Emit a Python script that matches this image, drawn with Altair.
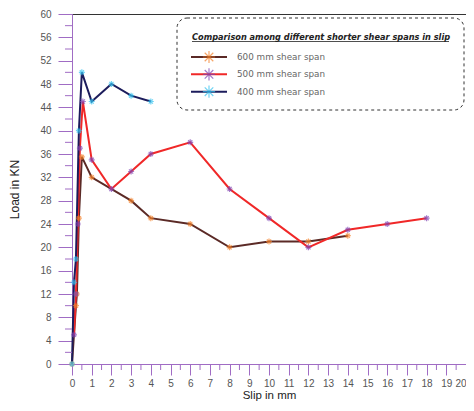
import altair as alt
import pandas as pd

series_names = ["600 mm shear span", "500 mm shear span", "400 mm shear span"]

slip_600 = [0, 0.2, 0.25, 0.35, 0.5, 1, 3, 4, 6, 8, 10, 12, 14]
load_600 = [0, 10, 12, 25, 35.5, 32, 28, 25, 24, 20, 21, 21, 22]

slip_500 = [0.1, 0.2, 0.3, 0.4, 0.55, 1, 2, 3, 4, 6, 8, 10, 12, 14, 16, 18]
load_500 = [5, 12, 24, 37, 45, 35, 30, 33, 36, 38, 30, 25, 20, 23, 24, 25]

slip_400 = [0, 0.1, 0.2, 0.35, 0.5, 1, 2, 3, 4]
load_400 = [0, 14, 18, 40, 50, 45, 48, 46, 45]

x_ticks = list(range(0, 21))
y_ticks = list(range(0, 61, 4))

line_colors = ["#5b2a26", "#f02828", "#1c1c5c"]
marker_colors = ["#f5822a", "#8044b4", "#35c3f0"]

rows = []
for name, xs, ys in zip(series_names, [slip_600, slip_500, slip_400], [load_600, load_500, load_400]):
    for i, (x, y) in enumerate(zip(xs, ys)):
        rows.append({"series": name, "slip": x, "load": y, "idx": i})
df = pd.DataFrame(rows)

AXIS_PURPLE = "#a06cc4"
star = "M-1,0L1,0M0,-1L0,1M-0.7,-0.7L0.7,0.7M-0.7,0.7L0.7,-0.7"

x_scale = alt.Scale(domain=[0, 20], nice=False)
y_scale = alt.Scale(domain=[0, 60], nice=False)
x_axis = alt.Axis(title="Slip in mm", values=x_ticks, grid=False, labelOverlap=False,
                  labelFlush=False,
                  labelAlign={"condition": {"test": "datum.value == 20", "value": "right"}, "value": "center"},
                  domainColor=AXIS_PURPLE, tickColor=AXIS_PURPLE,
                  tickSize=11, labelFont="Liberation Sans", labelFontSize=10,
                  labelColor="#555555", titleFont="Liberation Sans",
                  titleFontSize=11.5, titleFontWeight="normal", titleColor="#222222",
                  labelPadding=3, titlePadding=1)
y_axis = alt.Axis(title="Load in KN", values=y_ticks, grid=False, labelOverlap=False,
                  labelFlush=False, domainColor=AXIS_PURPLE, tickColor=AXIS_PURPLE, tickSize=14,
                  labelFont="Liberation Sans", labelFontSize=10,
                  labelColor="#555555", titleFont="Liberation Sans",
                  titleFontSize=12, titleFontWeight="normal", titleColor="#222222",
                  labelPadding=7, titlePadding=18)

base = alt.Chart(df)

lines = base.mark_line(strokeWidth=2).encode(
    x=alt.X("slip:Q", scale=x_scale, axis=x_axis),
    y=alt.Y("load:Q", scale=y_scale, axis=y_axis),
    color=alt.Color("series:N", scale=alt.Scale(domain=series_names, range=line_colors), legend=None),
    order="idx:Q",
)
points = base.mark_point(shape=star, filled=False, size=36, strokeWidth=1.2).encode(
    x=alt.X("slip:Q", scale=x_scale, axis=x_axis),
    y=alt.Y("load:Q", scale=y_scale, axis=y_axis),
    stroke=alt.Stroke("series:N", scale=alt.Scale(domain=series_names, range=marker_colors), legend=None),
)

# minor ticks
minor_x = pd.DataFrame({"slip": [i + 0.5 for i in range(20)]})
minor_y = pd.DataFrame({"load": [i for i in range(2, 60, 4)]})
mx = alt.Chart(minor_x).mark_rule(color=AXIS_PURPLE).encode(
    x=alt.X("slip:Q", scale=x_scale, axis=x_axis), y=alt.value(350), y2=alt.value(356))
my = alt.Chart(minor_y).mark_rule(color=AXIS_PURPLE).encode(
    y=alt.Y("load:Q", scale=y_scale, axis=y_axis), x=alt.value(0), x2=alt.value(-7))

# legend box
box = alt.Chart(pd.DataFrame({"a": [0]})).mark_rect(
    fill="white", stroke="#333333", strokeDash=[3, 3], strokeWidth=1, cornerRadius=10
).encode(x=alt.value(105), x2=alt.value(392), y=alt.value(4), y2=alt.value(96))

legend_title = alt.Chart(pd.DataFrame({"t": ["Comparison among different shorter shear spans in slip"]})).mark_text(
    font="DejaVu Sans", fontSize=8.2, fontStyle="italic", fontWeight="bold", color="#222222", align="left"
).encode(text="t:N", x=alt.value(120), y=alt.value(23.5))
underline = alt.Chart(pd.DataFrame({"a": [0]})).mark_rule(color="#222222", strokeWidth=0.8).encode(
    x=alt.value(120), x2=alt.value(377), y=alt.value(27.5))

leg_df = pd.DataFrame({"series": series_names, "ypix": [43, 60.3, 77.7]})
leg_lines = alt.Chart(leg_df).mark_rule(strokeWidth=2).encode(
    x=alt.value(119), x2=alt.value(155), y=alt.Y("ypix:Q", scale=None),
    color=alt.Color("series:N", scale=alt.Scale(domain=series_names, range=line_colors), legend=None))
leg_pts = alt.Chart(leg_df).mark_point(shape=star, filled=False, size=150, strokeWidth=1.2).encode(
    x=alt.value(137), y=alt.Y("ypix:Q", scale=None),
    stroke=alt.Stroke("series:N", scale=alt.Scale(domain=series_names, range=marker_colors), legend=None))
leg_text = alt.Chart(leg_df).mark_text(
    font="DejaVu Sans", fontSize=8.8, color="#666666", align="left", baseline="middle"
).encode(x=alt.value(165), y=alt.Y("ypix:Q", scale=None), text="series:N")

chart = alt.layer(lines, mx, my, points, box, legend_title, underline, leg_lines, leg_pts, leg_text).properties(
    width=394, height=350,
    autosize=alt.AutoSizeParams(type="none"),
    padding={"left": 64, "top": 6, "right": 0, "bottom": 39},
    background="white",
).configure_view(stroke="#333333", strokeWidth=1).configure_axis(labelOverlap=False)

chart.save("out.html", embed_options={"renderer": "svg", "actions": False})
